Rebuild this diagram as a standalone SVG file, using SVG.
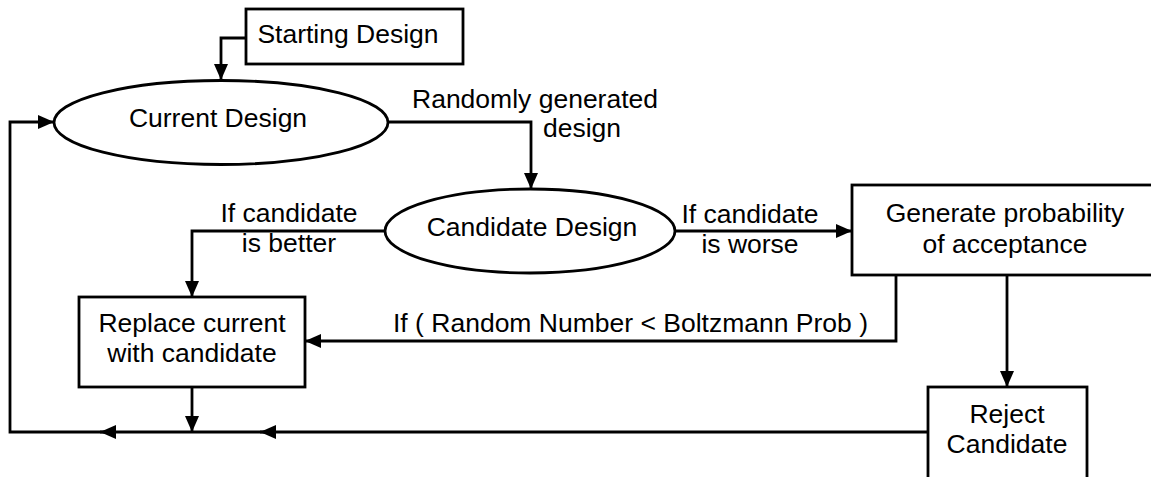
<svg xmlns="http://www.w3.org/2000/svg" width="1151" height="477" viewBox="0 0 1151 477">
<style>
.shape{fill:#fff;stroke:#000;stroke-width:2.8}
.line{fill:none;stroke:#000;stroke-width:2.8}
text{font-family:"Liberation Sans",Arial,sans-serif;font-size:26.5px;fill:#000}
.c{text-anchor:middle}
</style>
<defs>
<marker id="ah" viewBox="0 0 16 14" refX="16" refY="7" markerWidth="16" markerHeight="14" markerUnits="userSpaceOnUse" orient="auto">
<path d="M0,0 L16,7 L0,14 Z" fill="#000"/>
</marker>
</defs>
<rect width="1151" height="477" fill="#fff"/>
<g id="connectors">
<path class="line" d="M246,38 H221 V80" marker-end="url(#ah)"/>
<path class="line" d="M388,122 H531 V189" marker-end="url(#ah)"/>
<path class="line" d="M385,231 H192 V297" marker-end="url(#ah)"/>
<path class="line" d="M675,231 H852" marker-end="url(#ah)"/>
<path class="line" d="M896,275 V341 H305" marker-end="url(#ah)"/>
<path class="line" d="M1007,275 V387" marker-end="url(#ah)"/>
<path class="line" d="M192,387 V432" marker-end="url(#ah)"/>
<path class="line" d="M928,432 H267"/>
<path class="line" d="M274,432 H260" marker-end="url(#ah)"/>
<path class="line" d="M267,432 H107"/>
<path class="line" d="M114,432 H100" marker-end="url(#ah)"/>
<path class="line" d="M107,432 H10 V122 H54" marker-end="url(#ah)"/>
<text x="412" y="108">Randomly generated</text>
<text x="543" y="137">design</text>
<text class="c" x="289" y="222">If candidate</text>
<text class="c" x="289" y="252">is better</text>
<text class="c" x="750" y="223">If candidate</text>
<text class="c" x="750" y="253">is worse</text>
<text x="393" y="332">If ( Random Number &lt; Boltzmann Prob )</text>
</g>
<g id="starting">
<rect class="shape" x="246" y="9" width="217" height="55"/>
<text class="c" x="348" y="43">Starting Design</text>
</g>
<g id="current">
<ellipse class="shape" cx="221" cy="122.5" rx="167" ry="42"/>
<text class="c" x="218" y="127">Current Design</text>
</g>
<g id="candidate">
<ellipse class="shape" cx="530" cy="231" rx="145" ry="42"/>
<text class="c" x="532" y="236">Candidate Design</text>
</g>
<g id="generate">
<rect class="shape" x="852" y="185" width="310" height="90"/>
<text class="c" x="1005" y="222">Generate probability</text>
<text class="c" x="1005" y="253">of acceptance</text>
</g>
<g id="replace">
<rect class="shape" x="79" y="297" width="226" height="90"/>
<text class="c" x="192" y="332">Replace current</text>
<text class="c" x="192" y="362">with candidate</text>
</g>
<g id="reject">
<rect class="shape" x="928" y="387" width="159" height="100"/>
<text class="c" x="1007" y="423">Reject</text>
<text class="c" x="1007" y="453">Candidate</text>
</g>
</svg>
